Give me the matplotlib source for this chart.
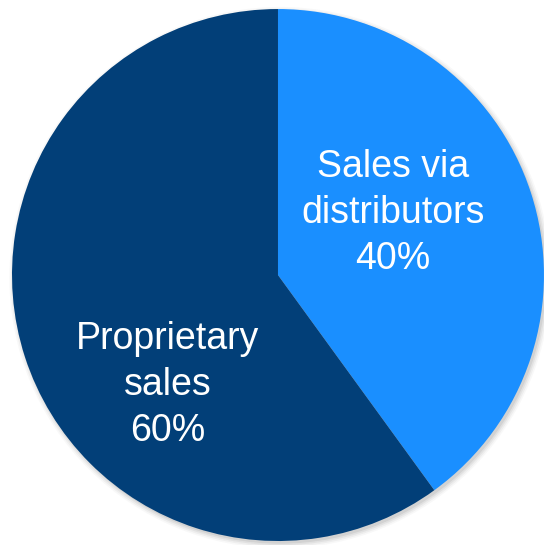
import matplotlib
matplotlib.use("Agg")
import matplotlib.pyplot as plt
from matplotlib.patches import Circle

# sales split by channel
categories = ["Sales via\ndistributors", "Proprietary\nsales"]
shares = [40, 60]
colors = ["#1A8FFF", "#023F78"]
label_xy = [(0.432, 0.233), (-0.414, -0.414)]

fig = plt.figure(figsize=(5.44, 5.45), dpi=100)
ax = fig.add_axes([0, 0, 1, 1])

# soft drop shadow under the pie
for i, a in enumerate([0.10, 0.08, 0.06, 0.04]):
    ax.add_patch(Circle((0.008, -0.010), 1.0 + 0.006 * i, color="#555555",
                        alpha=a, lw=0, zorder=0))

ax.pie(shares, colors=colors, startangle=90, counterclock=False,
       radius=1.0, wedgeprops=dict(linewidth=0),
       labeldistance=None)

for (x, y), name, v in zip(label_xy, categories, shares):
    ax.text(x, y, f"{name}\n{v}%", ha="center", va="center", color="white",
            fontsize=27, family="Liberation Sans", linespacing=1.35)

ax.set_xlim(-1.045, 1.0)
ax.set_ylim(-1.015, 1.034)
ax.set_aspect("equal")
ax.axis("off")

fig.savefig("out.png", dpi=100)
